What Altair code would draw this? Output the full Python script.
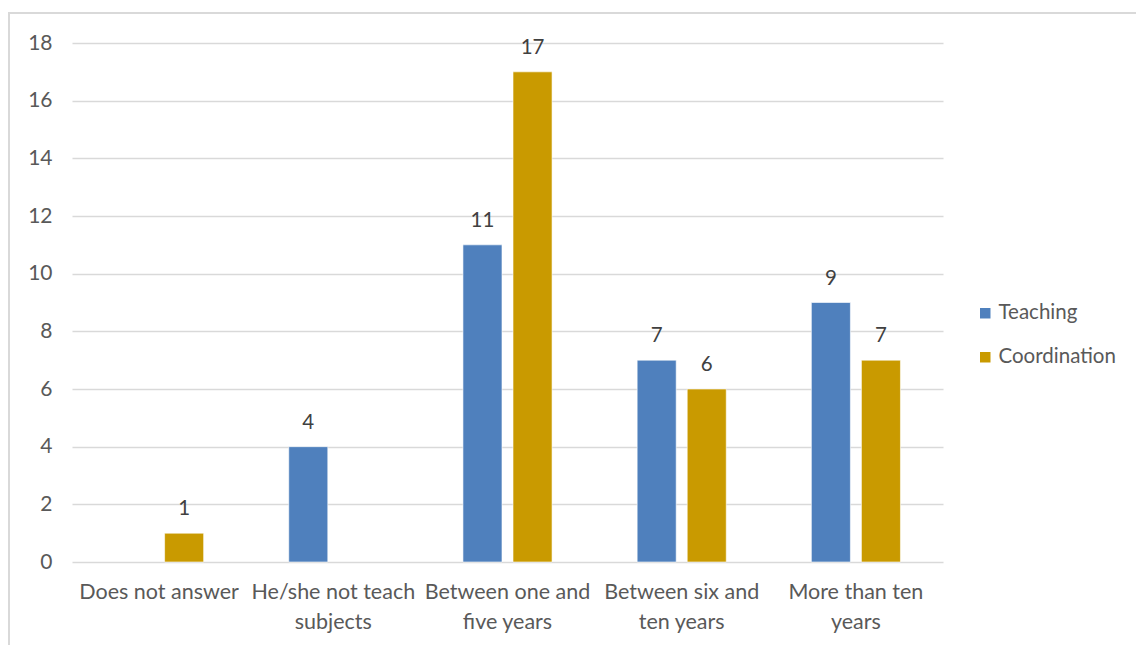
import altair as alt
import pandas as pd

categories = [
    "Does not answer",
    "He/she not teach subjects",
    "Between one and five years",
    "Between six and ten years",
    "More than ten years",
]
label_lines = [
    ["Does not answer"],
    ["He/she not teach", "subjects"],
    ["Between one and", "five years"],
    ["Between six and", "ten years"],
    ["More than ten", "years"],
]
series = ["Teaching", "Coordination"]
teaching = [None, 4, 11, 7, 9]
coordination = [1, None, 17, 6, 7]
colors = ["#4F80BD", "#C99A00"]
y_ticks = [0, 2, 4, 6, 8, 10, 12, 14, 16, 18]

rows = []
for cat, t, c in zip(categories, teaching, coordination):
    if t is not None:
        rows.append({"category": cat, "series": "Teaching", "value": t})
    if c is not None:
        rows.append({"category": cat, "series": "Coordination", "value": c})
df = pd.DataFrame(rows)

# multi-line labels
parts = []
for cat, lines in zip(categories, label_lines):
    arr = "[" + ",".join("'" + l + "'" for l in lines) + "]"
    parts.append(f"datum.label === '{cat}' ? {arr}")
label_expr = " : ".join(parts) + " : datum.label"

FONT = "Lato"
W, H = 871, 519

x = alt.X("category:N", sort=categories, title=None,
          scale=alt.Scale(paddingInner=0, paddingOuter=0),
          axis=alt.Axis(labelAngle=0, labelFontSize=21.5, labelColor="#595959",
                        labelFont=FONT, domain=False, ticks=False,
                        labelPadding=19, labelExpr=label_expr, labelLineHeight=30,
                        labelLimit=300, labelBaseline="top"))
xo = alt.XOffset("series:N", sort=series,
                 scale=alt.Scale(domain=series, paddingInner=0.22, paddingOuter=0.85))
y = alt.Y("value:Q", title=None,
          scale=alt.Scale(domain=[0, 18], nice=False),
          axis=alt.Axis(values=y_ticks, labelFontSize=21, labelColor="#595959",
                        labelFont=FONT, domain=False, ticks=False, labelPadding=20,
                        grid=True, gridColor="#d9d9d9", gridWidth=1.3))

color = alt.Color("series:N", sort=series,
                  scale=alt.Scale(domain=series, range=colors),
                  legend=alt.Legend(title=None, orient="none", legendX=903, legendY=260,
                                    symbolType="square", symbolSize=110,
                                    symbolStrokeWidth=0, labelFontSize=20.5,
                                    labelFont=FONT, labelColor="#595959",
                                    rowPadding=23, labelOffset=3))

bars = alt.Chart(df).mark_bar(stroke="white", strokeWidth=0.6).encode(
    x=x, xOffset=xo, y=y, color=color)

labels = alt.Chart(df).mark_text(
    baseline="alphabetic", dy=-18, fontSize=20.5, font=FONT, color="#404040"
).encode(x=alt.X("category:N", sort=categories), xOffset=xo,
         y="value:Q", text="value:Q")

border = alt.Chart(pd.DataFrame({"a": [0]})).mark_rect(
    fill=None, stroke="#d9d9d9", strokeWidth=2
).encode(x=alt.value(-63), x2=alt.value(W + 250),
         y=alt.value(-30), y2=alt.value(H + 200))

chart = alt.layer(border, bars, labels).properties(
    width=W, height=H,
    autosize=alt.AutoSizeParams(type="none"),
    padding={"left": 72, "top": 43, "right": 193, "bottom": 83},
    background="white",
).configure_view(stroke=None)

chart.save("out.html", embed_options={"renderer": "svg", "actions": False})
